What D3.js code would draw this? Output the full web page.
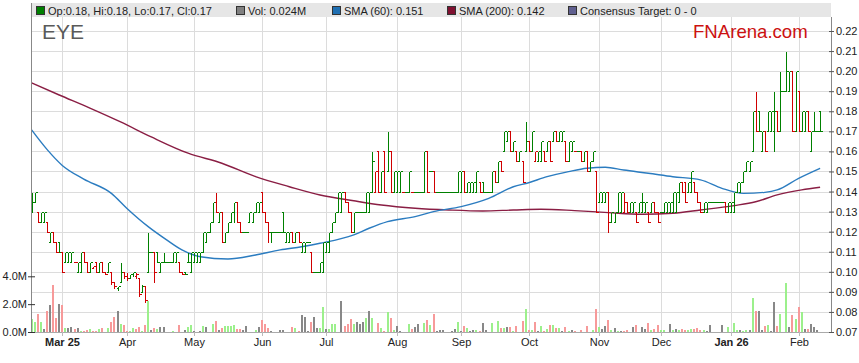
<!DOCTYPE html>
<html>
<head>
<meta charset="utf-8">
<script src="https://cdn.jsdelivr.net/npm/d3@7"></script>
<style>
  body { margin: 0; background: #fff; }
  svg { display: block; font-family: "Liberation Sans", Arial, sans-serif; }
</style>
</head>
<body>
<div id="chart"></div>
<script>
// EYE daily bars, one per weekday from 17 Feb 2025. Prices in 1/1000 AUD.
const startDate = "2025-02-17";

const opens = [
  130,135,130,125,125,125,115,120,115,115, 110,105,105,105,105,100,100,110,105,100,
  102,105,100,105,100,100,100,95,92,95, 100,98,97,99,98,97,90,93,100,110,
  110,110,100,105,105,105,105,105,105,100, 100,105,100,105,105,105,110,115,120,125,
  135,125,130,115,120,125,130,135,125,120, 120,125,125,130,130,140,130,125,120,120,
  120,120,130,115,115,120,115,120,110,110, 115,110,100,100,100,100,110,110,120,125,
  130,130,140,135,130,120,130,130,130,130, 130,140,140,160,140,160,150,160,140,140,
  140,140,140,140,140,140,140,140,140,160, 150,150,140,140,140,140,140,140,140,140,
  140,150,140,140,140,140,145,145,140,140, 140,150,145,155,160,165,170,160,160,155,
  155,160,165,160,155,155,155,160,160,165, 165,170,165,165,165,155,160,160,160,160,
  155,160,150,155,150,135,135,135,140,125, 125,130,130,130,135,130,130,130,130,130,
  130,130,130,135,130,130,130,130,130,130, 130,135,145,145,140,140,145,140,135,130,
  130,135,135,135,135,135,135,130,130,130, 140,140,145,150,150,160,180,180,160,170,
  170,170,170,180,170,190,190,190,200,170, 190,170,170,180,160,170,170,180
];
const highs = [
  140,140,130,130,130,125,120,120,115,115, 110,110,110,110,105,105,110,110,105,105,
  103,105,105,105,100,105,100,95,93,105, 100,100,99,100,100,97,94,93,120,110,
  110,110,105,110,105,105,110,110,105,100, 100,110,110,110,110,110,120,120,125,135,
  140,130,130,120,125,130,135,135,125,120, 120,130,130,135,135,140,130,125,120,120,
  120,120,130,120,120,120,120,120,115,115, 115,110,100,100,105,115,115,120,125,130,
  140,140,140,135,130,130,130,130,130,140, 140,160,150,160,150,160,170,160,150,150,
  150,140,140,150,140,140,140,140,160,160, 150,150,140,140,140,140,140,140,140,150,
  150,150,145,145,145,150,145,145,140,140, 150,150,155,155,170,170,170,165,160,160,
  155,175,165,170,160,160,165,160,165,165, 170,170,170,170,165,165,165,160,160,160,
  160,160,155,160,150,140,140,140,140,130, 130,140,140,140,135,135,135,130,135,140,
  135,130,135,135,130,130,135,135,135,140, 140,145,145,145,145,150,145,140,135,135,
  135,135,135,135,135,135,135,135,135,140, 145,145,150,155,155,180,190,180,170,170,
  180,180,190,180,200,190,210,200,200,200, 190,180,180,180,170,180,170,180
];
const lows = [
  130,135,125,125,125,120,115,115,110,110, 100,105,105,105,105,100,100,105,100,100,
  102,100,100,100,99,100,94,92,91,95, 97,96,97,98,97,88,90,85,100,110,
  95,105,100,105,105,105,105,105,100,99, 99,105,100,105,105,105,110,115,120,125,
  130,125,115,115,120,125,125,125,120,120, 120,125,125,130,130,130,125,115,115,120,
  120,120,120,115,115,115,115,115,110,110, 115,100,100,100,100,100,110,110,120,125,
  130,130,135,130,120,120,130,130,130,130, 130,140,140,140,140,140,150,140,140,140,
  140,140,140,140,140,140,140,140,140,140, 150,140,140,140,140,140,140,140,140,140,
  140,140,140,140,140,140,140,140,140,140, 140,145,145,150,160,165,160,160,155,155,
  145,160,160,160,155,155,155,155,160,155, 165,165,165,165,155,155,160,160,160,155,
  155,150,150,155,130,135,135,135,120,125, 125,130,130,130,130,130,130,125,130,130,
  130,125,130,130,125,130,130,130,130,130, 130,135,140,135,140,140,140,135,130,130,
  130,135,135,135,135,135,130,130,130,130, 140,140,145,150,150,160,170,170,160,160,
  170,170,160,170,170,190,190,190,170,170, 170,170,170,170,160,170,170,170
];
const closes = [
  135,140,125,130,130,120,120,115,110,110, 100,110,110,110,105,105,110,105,100,105,
  103,100,105,100,99,105,95,93,93,100, 98,97,99,100,99,89,93,86,110,110,
  100,105,105,105,105,105,110,110,100,99, 99,105,110,110,110,110,120,120,125,135,
  130,130,115,120,125,130,135,125,120,120, 120,130,130,135,135,130,125,120,120,120,
  120,120,120,120,120,115,120,115,115,115, 115,100,100,100,105,115,115,120,125,130,
  140,140,135,130,120,130,130,130,130,140, 140,155,150,140,150,140,160,140,150,150,
  150,140,140,150,140,140,140,140,160,140, 150,140,140,140,140,140,140,140,140,150,
  150,140,145,145,145,150,140,140,140,140, 150,145,155,150,170,170,160,165,155,160,
  145,165,160,170,160,160,165,155,165,155, 170,165,170,170,155,165,165,160,160,155,
  160,150,155,160,130,140,140,140,125,130, 130,140,140,135,130,135,135,125,135,135,
  135,125,135,130,125,130,135,135,135,140, 140,145,140,135,145,150,140,135,130,135,
  135,135,135,135,135,135,130,135,135,140, 145,145,150,155,155,180,170,170,170,160,
  180,180,180,170,190,190,200,200,170,200, 170,180,180,170,170,170,170,170
];
// volume in millions of shares
const volumes = [
  0.94,0.72,1.32,0.72,0.22,1.5,1.94,3.38,1.0,2.0, 1.97,0.29,0.29,0.36,0.22,0.29,0.1,0.1,0.14,0.22,
  0.1,0.07,0.19,0.31,0,0.31,0.72,1.1,1.5,0.58, 0.5,0.1,0.07,0.29,0.22,0.36,0.07,0.53,2.23,0.14,
  0.31,0.22,0.36,0.36,0,0,0.07,0,0.5,0, 0.14,0.36,0.5,0.07,0,0.07,0.43,0.36,0,0.6,
  0.8,0.14,0.29,0.43,0.43,0.43,0.53,0.19,0.22,0.14, 0.43,0,0,0.14,0.36,0.86,0.58,0.29,0.07,0,
  0,0.14,0.14,0,0,0.36,0.26,0.1,1.25,1.1, 0.07,0.72,1.1,0.29,0.29,1.82,0.19,0.19,0.58,0.58,
  0,2.23,0.43,0.58,0.94,0.58,0.72,0.58,0.72,1.0, 1.5,1.03,0,0.65,0.31,0.1,1.41,1.0,0.14,0.43,
  0.07,0,0,0.6,0.22,0.36,0.6,0,0.65,0.86, 0.53,1.32,0.07,0.14,0.14,0,0,0.07,0.22,0.72,
  0.07,0.43,0.29,0.07,0.14,0.14,0.07,0.65,0.14,0, 0.65,0,0.79,0.29,0.29,0.36,0.36,0.07,0.43,0,
  0.79,1.65,0.14,0.14,0.72,0.07,0.43,0.07,0.22,0.5, 0.5,0.31,0.31,0.07,0.36,0.07,0.14,0.07,0,0.14,
  0,0.43,0,0.14,1.65,0.36,0.22,0.43,0.86,0.14, 0.29,0.07,0.07,0.07,0.14,0,0.36,0.5,0,0.36,
  0.22,0.65,0.14,0.22,0.5,0.14,0.14,0,0.58,0.14, 0.22,0.14,0.22,0.14,0.14,0.22,0.22,0.29,0.14,0.14,
  0.07,0.5,0,0,0,0.5,0,0.36,0,0.65, 0.14,0.14,0.07,0.14,0.14,2.45,1.53,1.53,0.14,0.43,
  0.5,0.07,2.16,0.43,1.3,0,3.55,0.36,1.22,0.94, 1.8,1.44,0.22,0.22,0.58,0.38,0.14,0.024
];
// moving averages: [bar index, price]
const sma60 = [
  [0,0.1707],[5,0.1610],[10,0.1530],[17,0.1462],[26,0.1391],[31,0.1317],[38,0.1225],
  [44,0.1159],[49,0.1109],[55,0.1075],[64,0.1064],[73,0.1084],[81,0.1109],[88,0.1125],
  [94,0.1142],[105,0.1184],[110,0.1217],[116,0.125],[125,0.1275],[131,0.13],[140,0.1325],
  [149,0.1366],[157,0.1424],[162,0.1444],[168,0.1474],[175,0.1499],[181,0.1516],
  [187,0.1521],[193,0.1507],[201,0.1491],[209,0.1474],[218,0.1458],[225,0.1416],
  [232,0.1391],[239,0.1396],[243,0.1408],[250,0.1466],[257,0.1516]
];
const sma200 = [
  [0,0.1941],[9,0.1881],[19,0.1816],[29,0.1747],[39,0.1672],[51,0.1591],[62,0.1541],
  [73,0.1474],[84,0.1424],[94,0.1383],[105,0.1354],[114,0.1333],[125,0.1317],[136,0.1308],
  [147,0.1303],[157,0.1308],[166,0.1312],[177,0.1305],[188,0.1295],[199,0.1287],
  [209,0.1292],[218,0.1308],[229,0.133],[236,0.1349],[243,0.1383],[251,0.1408],[257,0.1421]
];
const priceTicks = [0.07,0.08,0.09,0.10,0.11,0.12,0.13,0.14,0.15,0.16,0.17,0.18,0.19,0.20,0.21,0.22];
const volumeTicks = [0, 2, 4];
const legendItems = [
  { label: "Op:0.18, Hi:0.18, Lo:0.17, Cl:0.17", color: "#008000", x: 36 },
  { label: "Vol: 0.024M", color: "#808080", x: 236 },
  { label: "SMA (60): 0.151", color: "#1f6fb2", x: 332 },
  { label: "SMA (200): 0.142", color: "#7f1030", x: 447 },
  { label: "Consensus Target: 0 - 0", color: "#5f5f8f", x: 568 }
];

const width = 859, height = 363;
const pLeft = 31, pRight = 831, pTop = 3, plotTop = 17, pBottom = 332;

// weekday calendar for the bars
const dates = [];
let day = new Date(startDate + "T00:00:00");
while (dates.length < closes.length) {
  if (day.getDay() !== 0 && day.getDay() !== 6) dates.push(new Date(day));
  day = d3.timeDay.offset(day, 1);
}
const bars = closes.map((c, i) => ({
  i, date: dates[i],
  o: opens[i] / 1000, h: highs[i] / 1000, l: lows[i] / 1000, c: c / 1000,
  v: volumes[i],
  prev: i > 0 ? closes[i - 1] / 1000 : opens[i] / 1000
}));
const monthIdx = bars.filter((b, i) => i > 0 && b.date.getMonth() !== bars[i - 1].date.getMonth()).map(b => b.i);

const x = d3.scaleLinear().domain([-0.2, 260.55]).range([pLeft, pRight]);
const y = d3.scaleLinear().domain([0.07, 0.22]).range([pBottom, 31]);
const v = d3.scaleLinear().domain([0, 4]).range([pBottom, 276.3]);
const px = val => Math.round(val) + 0.5;

const svg = d3.select("#chart").append("svg")
  .attr("width", width).attr("height", height);

// gridlines
svg.append("g").selectAll("line").data(priceTicks).join("line")
  .attr("x1", pLeft).attr("x2", pRight)
  .attr("y1", t => px(y(t))).attr("y2", t => px(y(t)))
  .attr("stroke", "#dcdcdc").attr("shape-rendering", "crispEdges");
svg.append("g").selectAll("line").data(monthIdx).join("line")
  .attr("x1", i => px(x(i))).attr("x2", i => px(x(i)))
  .attr("y1", plotTop).attr("y2", pBottom)
  .attr("stroke", "#dcdcdc").attr("shape-rendering", "crispEdges");

// legend bar
svg.append("rect").attr("x", pLeft).attr("y", pTop).attr("width", pRight - pLeft).attr("height", plotTop - pTop)
  .attr("fill", "#e6e6e6");
const leg = svg.append("g").selectAll("g").data(legendItems).join("g")
  .attr("transform", item => `translate(${item.x},6)`);
leg.append("rect").attr("x", 0.5).attr("y", 0.5).attr("width", 8).attr("height", 8)
  .attr("fill", item => item.color).attr("stroke", "#333");
leg.append("text").attr("x", 12).attr("y", 8.5).attr("font-size", 11).attr("fill", "#222")
  .text(item => item.label);

// titles
svg.append("text").attr("x", 42).attr("y", 39).attr("font-size", 21).attr("fill", "#5a5a5a").text("EYE");
svg.append("text").attr("x", 693).attr("y", 38).attr("font-size", 18.6).attr("fill", "#cc1111").text("FNArena.com");

// volume
const volColor = b => b.c > b.prev ? "#9cf08c" : b.c < b.prev ? "#f79a9a" : "#888888";
svg.append("g").selectAll("rect").data(bars.filter(b => b.v > 0)).join("rect")
  .attr("x", b => Math.round(x(b.i)) - 1)
  .attr("width", 2)
  .attr("y", b => Math.round(v(b.v)))
  .attr("height", b => pBottom - Math.round(v(b.v)))
  .attr("fill", volColor)
  .attr("shape-rendering", "crispEdges");

// moving averages
const smaLine = d3.line().x(p => x(p[0])).y(p => y(p[1])).curve(d3.curveMonotoneX);
svg.append("path").attr("d", smaLine(sma200)).attr("fill", "none")
  .attr("stroke", "#8a1e44").attr("stroke-width", 1.4);
svg.append("path").attr("d", smaLine(sma60)).attr("fill", "none")
  .attr("stroke", "#2b7cc0").attr("stroke-width", 1.4);

// OHLC bars
svg.append("g").selectAll("path").data(bars).join("path")
  .attr("d", b => {
    const xi = px(x(b.i));
    return `M${xi},${px(y(b.h))}V${px(y(b.l))}M${xi - 2},${px(y(b.o))}H${xi}M${xi},${px(y(b.c))}H${xi + 2}`;
  })
  .attr("fill", "none")
  .attr("stroke", b => b.c >= b.prev ? "#008000" : "#d00000")
  .attr("shape-rendering", "crispEdges");

// frame
svg.append("line").attr("x1", pLeft + 0.5).attr("x2", pLeft + 0.5).attr("y1", pTop).attr("y2", pBottom)
  .attr("stroke", "#888").attr("shape-rendering", "crispEdges");
svg.append("line").attr("x1", pRight + 0.5).attr("x2", pRight + 0.5).attr("y1", plotTop).attr("y2", pBottom)
  .attr("stroke", "#888").attr("shape-rendering", "crispEdges");
svg.append("line").attr("x1", pLeft).attr("x2", pRight).attr("y1", pBottom + 0.5).attr("y2", pBottom + 0.5)
  .attr("stroke", "#aaa").attr("shape-rendering", "crispEdges");

// price axis (right)
const yAxis = svg.append("g").attr("transform", `translate(${pRight},0)`)
  .call(d3.axisRight(y).tickValues(priceTicks).tickFormat(d3.format(".2f")).tickSize(3).tickPadding(2))
  .call(g => g.select(".domain").remove());
yAxis.selectAll(".tick line").attr("x1", -2).attr("stroke", "#555");
yAxis.selectAll("text").attr("font-size", 11).attr("fill", "#222").attr("font-family", null);

// volume axis (left)
const vAxis = svg.append("g").attr("transform", `translate(${pLeft},0)`)
  .call(d3.axisLeft(v).tickValues(volumeTicks).tickFormat(t => t.toFixed(1) + "M").tickSize(3).tickPadding(1))
  .call(g => g.select(".domain").remove());
vAxis.selectAll(".tick line").attr("x1", 4).attr("stroke", "#333");
vAxis.selectAll("text").attr("font-size", 11).attr("fill", "#222").attr("font-family", null);

// date axis
const xAxis = svg.append("g").attr("transform", `translate(0,${pBottom})`)
  .call(d3.axisBottom(x).tickValues(monthIdx).tickSize(4).tickPadding(2)
    .tickFormat((i, k) => {
      const dt = bars[i].date;
      return (k === 0 || dt.getMonth() === 0) ? d3.timeFormat("%b %y")(dt) : d3.timeFormat("%b")(dt);
    }))
  .call(g => g.select(".domain").remove());
xAxis.selectAll(".tick").attr("transform", i => `translate(${px(x(i))},0)`);
xAxis.selectAll(".tick line").attr("stroke", "#bbb");
xAxis.selectAll("text").attr("font-size", 11).attr("fill", "#222").attr("font-family", null)
  .attr("font-weight", (i, k) => (k === 0 || bars[i].date.getMonth() === 0) ? "bold" : null);
</script>
</body>
</html>
